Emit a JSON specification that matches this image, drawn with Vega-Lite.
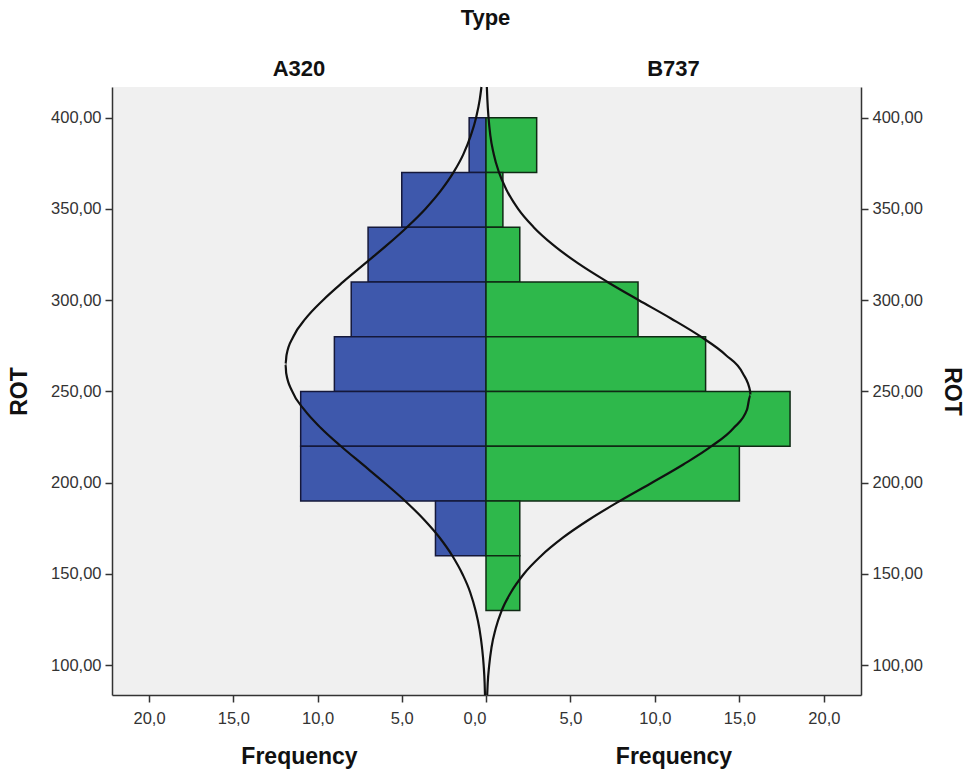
{
  "$schema": "https://vega.github.io/schema/vega-lite/v6.json",
  "background": "white",
  "padding": {"left": 8, "right": 8, "top": 6, "bottom": 2},
  "bounds": "flush",
  "title": {"text": "Type", "anchor": "middle", "font": "Liberation Sans", "fontSize": 22, "fontWeight": "bold", "color": "#111", "offset": 28},
  "datasets": {
    "bars": [
      {"type": "A320", "lo": 370, "hi": 400, "count": 1},
      {"type": "A320", "lo": 340, "hi": 370, "count": 5},
      {"type": "A320", "lo": 310, "hi": 340, "count": 7},
      {"type": "A320", "lo": 280, "hi": 310, "count": 8},
      {"type": "A320", "lo": 250, "hi": 280, "count": 9},
      {"type": "A320", "lo": 220, "hi": 250, "count": 11},
      {"type": "A320", "lo": 190, "hi": 220, "count": 11},
      {"type": "A320", "lo": 160, "hi": 190, "count": 3},
      {"type": "B737", "lo": 370, "hi": 400, "count": 3},
      {"type": "B737", "lo": 340, "hi": 370, "count": 1},
      {"type": "B737", "lo": 310, "hi": 340, "count": 2},
      {"type": "B737", "lo": 280, "hi": 310, "count": 9},
      {"type": "B737", "lo": 250, "hi": 280, "count": 13},
      {"type": "B737", "lo": 220, "hi": 250, "count": 18},
      {"type": "B737", "lo": 190, "hi": 220, "count": 15},
      {"type": "B737", "lo": 160, "hi": 190, "count": 2},
      {"type": "B737", "lo": 130, "hi": 160, "count": 2}
    ],
    "curve": [
      {"type": "A320", "rot": 83.7, "freq": 0.06},
      {"type": "A320", "rot": 90, "freq": 0.08},
      {"type": "A320", "rot": 100, "freq": 0.14},
      {"type": "A320", "rot": 110, "freq": 0.24},
      {"type": "A320", "rot": 120, "freq": 0.39},
      {"type": "A320", "rot": 130, "freq": 0.62},
      {"type": "A320", "rot": 140, "freq": 0.94},
      {"type": "A320", "rot": 150, "freq": 1.4},
      {"type": "A320", "rot": 160, "freq": 2.0},
      {"type": "A320", "rot": 170, "freq": 2.76},
      {"type": "A320", "rot": 180, "freq": 3.7},
      {"type": "A320", "rot": 190, "freq": 4.8},
      {"type": "A320", "rot": 200, "freq": 6.03},
      {"type": "A320", "rot": 210, "freq": 7.32},
      {"type": "A320", "rot": 220, "freq": 8.61},
      {"type": "A320", "rot": 230, "freq": 9.8},
      {"type": "A320", "rot": 240, "freq": 10.79},
      {"type": "A320", "rot": 250, "freq": 11.5},
      {"type": "A320", "rot": 260, "freq": 11.86},
      {"type": "A320", "rot": 265, "freq": 11.9},
      {"type": "A320", "rot": 270, "freq": 11.84},
      {"type": "A320", "rot": 280, "freq": 11.44},
      {"type": "A320", "rot": 290, "freq": 10.7},
      {"type": "A320", "rot": 300, "freq": 9.68},
      {"type": "A320", "rot": 310, "freq": 8.48},
      {"type": "A320", "rot": 320, "freq": 7.19},
      {"type": "A320", "rot": 330, "freq": 5.9},
      {"type": "A320", "rot": 340, "freq": 4.69},
      {"type": "A320", "rot": 350, "freq": 3.6},
      {"type": "A320", "rot": 360, "freq": 2.68},
      {"type": "A320", "rot": 370, "freq": 1.93},
      {"type": "A320", "rot": 380, "freq": 1.34},
      {"type": "A320", "rot": 390, "freq": 0.91},
      {"type": "A320", "rot": 400, "freq": 0.59},
      {"type": "A320", "rot": 410, "freq": 0.37},
      {"type": "A320", "rot": 416.8, "freq": 0.27},
      {"type": "B737", "rot": 83.7, "freq": 0.07},
      {"type": "B737", "rot": 90, "freq": 0.1},
      {"type": "B737", "rot": 100, "freq": 0.19},
      {"type": "B737", "rot": 110, "freq": 0.33},
      {"type": "B737", "rot": 120, "freq": 0.57},
      {"type": "B737", "rot": 130, "freq": 0.93},
      {"type": "B737", "rot": 140, "freq": 1.48},
      {"type": "B737", "rot": 150, "freq": 2.24},
      {"type": "B737", "rot": 160, "freq": 3.27},
      {"type": "B737", "rot": 170, "freq": 4.57},
      {"type": "B737", "rot": 180, "freq": 6.14},
      {"type": "B737", "rot": 190, "freq": 7.92},
      {"type": "B737", "rot": 200, "freq": 9.82},
      {"type": "B737", "rot": 210, "freq": 11.68},
      {"type": "B737", "rot": 220, "freq": 13.35},
      {"type": "B737", "rot": 230, "freq": 14.66},
      {"type": "B737", "rot": 240, "freq": 15.45},
      {"type": "B737", "rot": 248, "freq": 15.65},
      {"type": "B737", "rot": 250, "freq": 15.64},
      {"type": "B737", "rot": 260, "freq": 15.2},
      {"type": "B737", "rot": 270, "freq": 14.19},
      {"type": "B737", "rot": 280, "freq": 12.72},
      {"type": "B737", "rot": 290, "freq": 10.95},
      {"type": "B737", "rot": 300, "freq": 9.05},
      {"type": "B737", "rot": 310, "freq": 7.19},
      {"type": "B737", "rot": 320, "freq": 5.48},
      {"type": "B737", "rot": 330, "freq": 4.01},
      {"type": "B737", "rot": 340, "freq": 2.82},
      {"type": "B737", "rot": 350, "freq": 1.9},
      {"type": "B737", "rot": 360, "freq": 1.24},
      {"type": "B737", "rot": 370, "freq": 0.77},
      {"type": "B737", "rot": 380, "freq": 0.46},
      {"type": "B737", "rot": 390, "freq": 0.26},
      {"type": "B737", "rot": 400, "freq": 0.15},
      {"type": "B737", "rot": 410, "freq": 0.08},
      {"type": "B737", "rot": 416.8, "freq": 0.05}
    ]
  },
  "spacing": 0,
  "config": {
    "view": {"stroke": null, "fill": "#F0F0F0"},
    "font": "Liberation Sans",
    "axis": {
      "labelFont": "Liberation Sans", "labelFontSize": 16.5, "labelColor": "#333",
      "titleFont": "Liberation Sans", "titleFontSize": 23, "titleFontWeight": "bold", "titleColor": "#111",
      "domainColor": "#333", "domainWidth": 1.5, "tickColor": "#333", "tickWidth": 1.5, "tickSize": 7,
      "grid": false
    },
    "title": {"font": "Liberation Sans", "fontSize": 22, "fontWeight": "bold", "color": "#111"}
  },
  "hconcat": [
    {
      "width": 374,
      "height": 608,
      "title": {"text": "A320", "anchor": "middle", "offset": 2},
      "layer": [
        {
          "data": {"name": "bars"},
          "transform": [{"filter": "datum.type === 'A320'"}],
          "mark": {"type": "bar", "fill": "#3E58AC", "stroke": "#15183a", "strokeWidth": 1.5},
          "encoding": {
            "x": {"field": "count", "type": "quantitative", "scale": {"domain": [0, 22.2], "nice": false, "reverse": true, "zero": false},
                  "axis": {"values": [0, 5, 10, 15, 20], "labelExpr": "replace(format(datum.value, '.1f'), '.', ',')", "title": "Frequency", "titlePadding": 19, "labelPadding": 8}},
            "x2": {"datum": 0},
            "y": {"field": "lo", "type": "quantitative", "scale": {"domain": [83.7, 416.8], "nice": false, "zero": false},
                  "axis": {"values": [100, 150, 200, 250, 300, 350, 400], "labelExpr": "replace(format(datum.value, '.2f'), '.', ',')", "title": "ROT", "titlePadding": 19, "labelPadding": 4}},
            "y2": {"field": "hi"}
          }
        },
        {
          "data": {"name": "curve"},
          "transform": [{"filter": "datum.type === 'A320'"}],
          "mark": {"type": "line", "color": "#111", "strokeWidth": 2.2, "interpolate": "monotone"},
          "encoding": {
            "x": {"field": "freq", "type": "quantitative"},
            "y": {"field": "rot", "type": "quantitative"},
            "order": {"field": "rot", "type": "quantitative"}
          }
        },
        {
          "mark": {"type": "rule", "color": "#333", "strokeWidth": 1.5},
          "encoding": {"y": {"datum": 416.8}}
        }
      ]
    },
    {
      "width": 375,
      "height": 608,
      "title": {"text": "B737", "anchor": "middle", "offset": 2},
      "layer": [
        {
          "data": {"name": "bars"},
          "transform": [{"filter": "datum.type === 'B737'"}],
          "mark": {"type": "bar", "fill": "#2EB84B", "stroke": "#0f2a14", "strokeWidth": 1.5},
          "encoding": {
            "x": {"field": "count", "type": "quantitative", "scale": {"domain": [0, 22.2], "nice": false, "zero": false},
                  "axis": {"values": [5, 10, 15, 20], "labelExpr": "replace(format(datum.value, '.1f'), '.', ',')", "title": "Frequency", "titlePadding": 19, "labelPadding": 8}},
            "x2": {"datum": 0},
            "y": {"field": "lo", "type": "quantitative", "scale": {"domain": [83.7, 416.8], "nice": false, "zero": false},
                  "axis": {"orient": "right", "values": [100, 150, 200, 250, 300, 350, 400], "labelExpr": "replace(format(datum.value, '.2f'), '.', ',')", "title": "ROT", "titleAngle": 90, "titlePadding": 17, "labelPadding": 4}},
            "y2": {"field": "hi"}
          }
        },
        {
          "data": {"name": "curve"},
          "transform": [{"filter": "datum.type === 'B737'"}],
          "mark": {"type": "line", "color": "#111", "strokeWidth": 2.2, "interpolate": "monotone"},
          "encoding": {
            "x": {"field": "freq", "type": "quantitative"},
            "y": {"field": "rot", "type": "quantitative"},
            "order": {"field": "rot", "type": "quantitative"}
          }
        },
        {
          "mark": {"type": "rule", "color": "#333", "strokeWidth": 1.5},
          "encoding": {"y": {"datum": 416.8}}
        }
      ]
    }
  ]
}
